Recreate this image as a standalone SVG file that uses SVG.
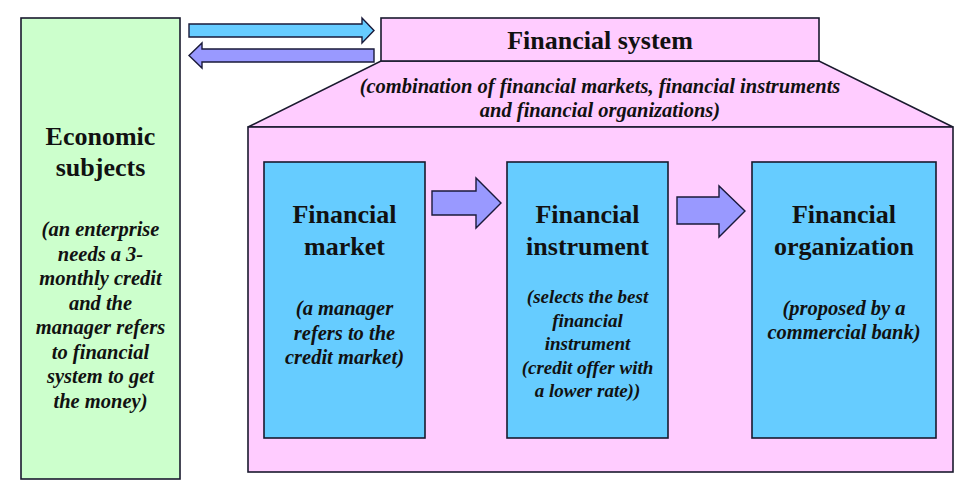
<svg xmlns="http://www.w3.org/2000/svg" width="975" height="493" viewBox="0 0 975 493">
<style>
.box{stroke:#1a1a2e;stroke-width:1.6}
.green{fill:#CCFFCC}
.pink{fill:#FFCCFF}
.blue{fill:#66CCFF}
.arr{stroke:#1a1a3a;stroke-width:1.4;stroke-linejoin:miter}
.cyan{fill:#66CCFF}
.lav{fill:#9999FF}
</style>
<rect width="975" height="493" fill="#fff"/>
<g id="economic-subjects" fill="#111" text-anchor="middle">
<rect class="box green" x="21" y="18" width="159" height="461"/>
<text x="100.5" y="145" font-family="Liberation Serif" font-weight="bold" font-size="26">Economic</text>
<text x="100.5" y="176" font-family="Liberation Serif" font-weight="bold" font-size="26">subjects</text>
<text x="100.5" y="236" font-family="Liberation Serif" font-weight="bold" font-style="italic" font-size="20.5">(an enterprise</text>
<text x="100.5" y="260.5" font-family="Liberation Serif" font-weight="bold" font-style="italic" font-size="20.5">needs a 3-</text>
<text x="100.5" y="285" font-family="Liberation Serif" font-weight="bold" font-style="italic" font-size="20.5">monthly credit</text>
<text x="100.5" y="309.5" font-family="Liberation Serif" font-weight="bold" font-style="italic" font-size="20.5">and the</text>
<text x="100.5" y="334" font-family="Liberation Serif" font-weight="bold" font-style="italic" font-size="20.5">manager refers</text>
<text x="100.5" y="358.5" font-family="Liberation Serif" font-weight="bold" font-style="italic" font-size="20.5">to financial</text>
<text x="100.5" y="383" font-family="Liberation Serif" font-weight="bold" font-style="italic" font-size="20.5">system to get</text>
<text x="100.5" y="407.5" font-family="Liberation Serif" font-weight="bold" font-style="italic" font-size="20.5">the money)</text>
</g>
<g id="financial-system" fill="#111" text-anchor="middle">
<polygon class="box pink" points="381,61 819,61 953,127 248,127"/>
<rect class="box pink" x="248" y="127" width="705" height="345"/>
<rect class="box pink" x="381" y="18" width="438" height="43"/>
<text x="600" y="49" font-family="Liberation Serif" font-weight="bold" font-size="26">Financial system</text>
<text x="600" y="93" font-family="Liberation Serif" font-weight="bold" font-style="italic" font-size="20.5">(combination of financial markets, financial instruments</text>
<text x="600" y="117" font-family="Liberation Serif" font-weight="bold" font-style="italic" font-size="20.5">and financial organizations)</text>
</g>
<g id="financial-market" fill="#111" text-anchor="middle">
<rect class="box blue" x="264" y="162" width="161" height="276"/>
<text x="344.5" y="223" font-family="Liberation Serif" font-weight="bold" font-size="26">Financial</text>
<text x="344.5" y="255" font-family="Liberation Serif" font-weight="bold" font-size="26">market</text>
<text x="344.5" y="315" font-family="Liberation Serif" font-weight="bold" font-style="italic" font-size="20.5">(a manager</text>
<text x="344.5" y="339.5" font-family="Liberation Serif" font-weight="bold" font-style="italic" font-size="20.5">refers to the</text>
<text x="344.5" y="364" font-family="Liberation Serif" font-weight="bold" font-style="italic" font-size="20.5">credit market)</text>
</g>
<g id="financial-instrument" fill="#111" text-anchor="middle">
<rect class="box blue" x="507" y="162" width="161" height="276"/>
<text x="587.5" y="223" font-family="Liberation Serif" font-weight="bold" font-size="26">Financial</text>
<text x="587.5" y="255" font-family="Liberation Serif" font-weight="bold" font-size="26">instrument</text>
<text x="587.5" y="303" font-family="Liberation Serif" font-weight="bold" font-style="italic" font-size="19">(selects the best</text>
<text x="587.5" y="326.5" font-family="Liberation Serif" font-weight="bold" font-style="italic" font-size="19">financial</text>
<text x="587.5" y="350" font-family="Liberation Serif" font-weight="bold" font-style="italic" font-size="19">instrument</text>
<text x="587.5" y="373.5" font-family="Liberation Serif" font-weight="bold" font-style="italic" font-size="19">(credit offer with</text>
<text x="587.5" y="397" font-family="Liberation Serif" font-weight="bold" font-style="italic" font-size="19">a lower rate))</text>
</g>
<g id="financial-organization" fill="#111" text-anchor="middle">
<rect class="box blue" x="752" y="162" width="184" height="276"/>
<text x="844" y="223" font-family="Liberation Serif" font-weight="bold" font-size="26">Financial</text>
<text x="844" y="255" font-family="Liberation Serif" font-weight="bold" font-size="26">organization</text>
<text x="844" y="315" font-family="Liberation Serif" font-weight="bold" font-style="italic" font-size="20.5">(proposed by a</text>
<text x="844" y="338.5" font-family="Liberation Serif" font-weight="bold" font-style="italic" font-size="20.5">commercial bank)</text>
</g>
<g id="connectors">
<polygon class="arr cyan" points="189,24 362,24 362,18 374,30.5 362,43 362,37 189,37"/>
<polygon class="arr lav" points="374,49 202,49 202,43 189,55.5 202,68 202,62 374,62"/>
<polygon class="arr lav" points="432,191 476,191 476,178 501,203 476,228 476,215 432,215"/>
<polygon class="arr lav" points="677,197 719,197 719,186 745,211 719,237 719,224 677,224"/>
</g>
</svg>
